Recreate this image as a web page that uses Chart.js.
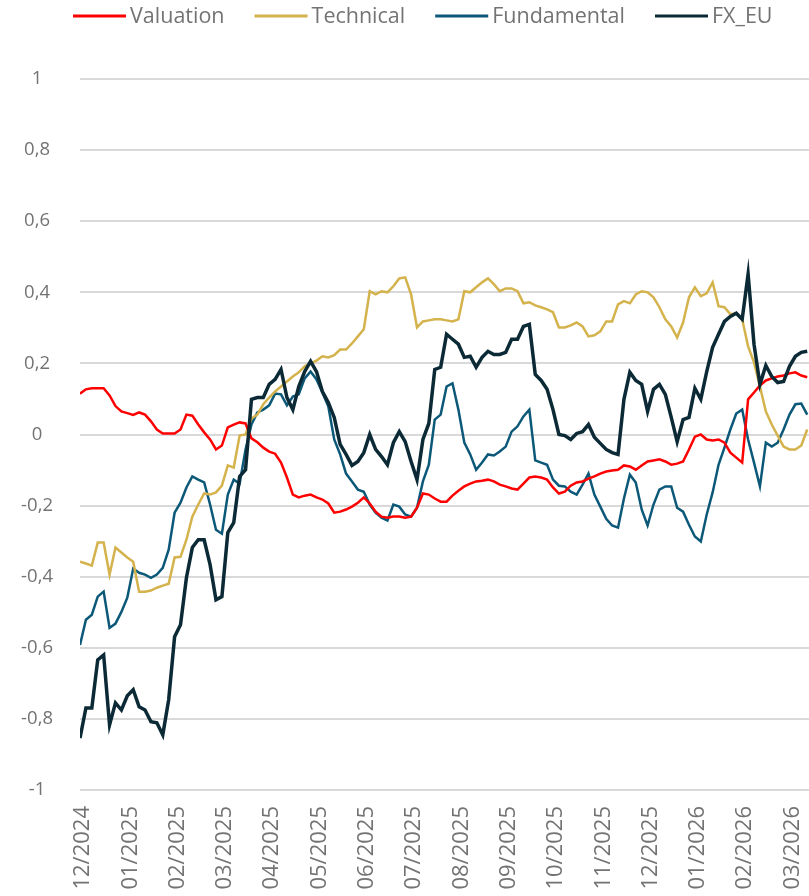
<!DOCTYPE html>
<html>
<head>
<meta charset="utf-8">
<script src="https://cdn.jsdelivr.net/npm/chart.js@4.4.1/dist/chart.umd.min.js"></script>
<style>
  html, body { margin: 0; padding: 0; background: #ffffff; }
  #wrap { width: 809px; height: 896px; position: relative; }
</style>
</head>
<body>
<div id="wrap"><canvas id="signalChart" width="809" height="896"></canvas></div>
<script>
// month labels shown on the x axis (one every 8 samples)
const monthLabels = ['12/2024', '01/2025', '02/2025', '03/2025', '04/2025', '05/2025', '06/2025', '07/2025',
    '08/2025', '09/2025', '10/2025', '11/2025', '12/2025', '01/2026', '02/2026', '03/2026'];
const samplesPerMonth = 8;

const seriesNames = ['Valuation', 'Technical', 'Fundamental', 'FX_EU'];
const seriesColors = ['#ff0000', '#d4b24c', '#0c5878', '#0b2a36'];

// values, one sample every ~4 days
const valuation = [
    0.115, 0.127, 0.13, 0.13, 0.13, 0.11, 0.08, 0.065, 0.06, 0.055,
    0.062, 0.056, 0.037, 0.014, 0.003, 0.003, 0.003, 0.014, 0.056, 0.053,
    0.028, 0.006, -0.014, -0.042, -0.031, 0.02, 0.028, 0.034, 0.031, -0.011,
    -0.022, -0.037, -0.048, -0.054, -0.079, -0.121, -0.169, -0.177, -0.172, -0.169,
    -0.177, -0.183, -0.194, -0.22, -0.217, -0.211, -0.203, -0.192, -0.177, -0.194,
    -0.217, -0.231, -0.234, -0.231, -0.231, -0.234, -0.231, -0.206, -0.166, -0.169,
    -0.18, -0.189, -0.189, -0.172, -0.158, -0.146, -0.138, -0.132, -0.13, -0.127,
    -0.132, -0.141, -0.146, -0.152, -0.155, -0.138, -0.121, -0.118, -0.121, -0.127,
    -0.149, -0.166, -0.161, -0.144, -0.135, -0.132, -0.124, -0.118, -0.11, -0.104,
    -0.101, -0.099, -0.087, -0.09, -0.099, -0.087, -0.076, -0.073, -0.07, -0.076,
    -0.085, -0.082, -0.076, -0.042, -0.006, 0, -0.014, -0.017, -0.014, -0.023,
    -0.051, -0.065, -0.079, 0.099, 0.118, 0.138, 0.152, 0.158, 0.163, 0.166,
    0.172, 0.175, 0.166, 0.161
];
const technical = [
    -0.358, -0.363, -0.369, -0.304, -0.304, -0.394, -0.318, -0.332, -0.346, -0.358,
    -0.442, -0.442, -0.439, -0.431, -0.425, -0.42, -0.346, -0.344, -0.296, -0.231,
    -0.197, -0.166, -0.169, -0.163, -0.144, -0.087, -0.093, -0.003, 0, 0.045,
    0.056, 0.085, 0.104, 0.121, 0.135, 0.149, 0.163, 0.175, 0.192, 0.2,
    0.208, 0.22, 0.217, 0.223, 0.239, 0.239, 0.256, 0.276, 0.296, 0.403,
    0.394, 0.403, 0.4, 0.417, 0.439, 0.442, 0.394, 0.301, 0.318, 0.321,
    0.324, 0.324, 0.321, 0.318, 0.324, 0.403, 0.4, 0.414, 0.428, 0.439,
    0.423, 0.403, 0.411, 0.411, 0.403, 0.369, 0.372, 0.363, 0.358, 0.352,
    0.344, 0.301, 0.301, 0.307, 0.315, 0.304, 0.276, 0.279, 0.29, 0.318,
    0.318, 0.366, 0.375, 0.369, 0.394, 0.403, 0.4, 0.386, 0.358, 0.324,
    0.304, 0.273, 0.315, 0.386, 0.414, 0.389, 0.397, 0.428, 0.361, 0.358,
    0.338, 0.341, 0.324, 0.248, 0.203, 0.135, 0.065, 0.028, -0.003, -0.034,
    -0.042, -0.042, -0.031, 0.014
];
const fundamental = [
    -0.592, -0.521, -0.507, -0.456, -0.442, -0.544, -0.532, -0.499, -0.459, -0.377,
    -0.389, -0.394, -0.403, -0.394, -0.375, -0.324, -0.22, -0.192, -0.149, -0.118,
    -0.127, -0.135, -0.197, -0.268, -0.279, -0.169, -0.127, -0.138, -0.042, 0.028,
    0.062, 0.07, 0.082, 0.115, 0.113, 0.082, 0.107, 0.113, 0.158, 0.177,
    0.155, 0.118, 0.079, -0.014, -0.056, -0.11, -0.132, -0.155, -0.161, -0.197,
    -0.22, -0.234, -0.242, -0.197, -0.203, -0.225, -0.231, -0.206, -0.132, -0.085,
    0.042, 0.056, 0.135, 0.144, 0.07, -0.023, -0.056, -0.099, -0.079, -0.056,
    -0.059, -0.048, -0.034, 0.008, 0.023, 0.051, 0.07, -0.073, -0.079, -0.085,
    -0.127, -0.144, -0.146, -0.161, -0.169, -0.141, -0.11, -0.169, -0.203, -0.237,
    -0.256, -0.262, -0.18, -0.113, -0.135, -0.211, -0.256, -0.197, -0.155, -0.146,
    -0.146, -0.206, -0.217, -0.254, -0.287, -0.301, -0.225, -0.163, -0.085, -0.037,
    0.014, 0.059, 0.07, -0.014, -0.079, -0.146, -0.023, -0.034, -0.023, 0.014,
    0.056, 0.085, 0.087, 0.056
];
const fxEu = [
    -0.854, -0.769, -0.769, -0.634, -0.62, -0.817, -0.755, -0.775, -0.735, -0.718,
    -0.766, -0.775, -0.808, -0.811, -0.845, -0.746, -0.569, -0.535, -0.403, -0.318,
    -0.296, -0.296, -0.366, -0.465, -0.456, -0.276, -0.248, -0.118, -0.099, 0.099,
    0.104, 0.104, 0.141, 0.155, 0.183, 0.104, 0.07, 0.135, 0.177, 0.206,
    0.177, 0.121, 0.09, 0.048, -0.028, -0.056, -0.087, -0.076, -0.051, 0,
    -0.042, -0.062, -0.085, -0.023, 0.008, -0.02, -0.076, -0.127, -0.014, 0.031,
    0.183, 0.189, 0.282, 0.268, 0.254, 0.217, 0.22, 0.189, 0.217, 0.234,
    0.225, 0.225, 0.231, 0.268, 0.268, 0.304, 0.31, 0.169, 0.152, 0.127,
    0.07, 0, -0.003, -0.014, 0.003, 0.008, 0.028, -0.008, -0.025, -0.042,
    -0.051, -0.056, 0.099, 0.175, 0.152, 0.141, 0.065, 0.127, 0.141, 0.113,
    0.048, -0.02, 0.042, 0.048, 0.13, 0.099, 0.177, 0.245, 0.282, 0.318,
    0.332, 0.341, 0.324, 0.451, 0.254, 0.141, 0.194, 0.163, 0.146, 0.149,
    0.192, 0.22, 0.231, 0.234
];

const yTicks = [-1, -0.8, -0.6, -0.4, -0.2, 0, 0.2, 0.4, 0.6, 0.8, 1];

const allSeries = [valuation, technical, fundamental, fxEu];
const lineWidths = [2.5, 2.5, 2.5, 3.5];
const drawOrder = [1, 2, 3, 0]; // FX_EU on top

const toPoints = (arr) => arr.map((v, i) => ({ x: i, y: v }));

const datasets = allSeries.map((arr, i) => ({
    label: seriesNames[i],
    data: toPoints(arr),
    borderColor: seriesColors[i],
    backgroundColor: seriesColors[i],
    borderWidth: lineWidths[i],
    pointRadius: 0,
    tension: 0,
    order: drawOrder[i]
}));

const fontFamily = '"Open Sans", "DejaVu Sans", sans-serif';
const textColor = '#737373';

// legend drawn by hand: short line, small gap, label, wider gap
const lineLegend = {
    id: 'lineLegend',
    afterDraw(chart) {
        const c = chart.ctx;
        c.save();
        c.font = '21.5px ' + fontFamily;
        c.textBaseline = 'middle';
        c.textAlign = 'left';
        let x = 73;
        const y = 16;
        chart.data.datasets.forEach(ds => {
            c.fillStyle = ds.borderColor;
            c.fillRect(x, y - 1.5, 53, 3);
            x += 57;
            c.fillStyle = textColor;
            c.fillText(ds.label, x, y + 1);
            x += c.measureText(ds.label).width + 30;
        });
        c.restore();
    }
};

let ctx = document.getElementById('signalChart').getContext('2d');
const myChart = new Chart(ctx, {
    type: 'line',
    data: { datasets: datasets },
    plugins: [lineLegend],
    options: {
        responsive: false,
        animation: false,
        layout: { padding: { left: 0, right: 0, top: 79, bottom: 0 } },
        scales: {
            x: {
                type: 'linear',
                min: 0,
                max: 123.3,
                grid: { display: false },
                border: { display: false },
                afterFit(axis) {
                    axis.height = 106;
                    axis.paddingLeft = 0;
                    axis.paddingRight = 0;
                },
                afterBuildTicks(axis) {
                    axis.ticks = monthLabels.map((l, i) => ({ value: 0.5 + i * samplesPerMonth }));
                },
                ticks: {
                    autoSkip: false,
                    minRotation: 90,
                    maxRotation: 90,
                    padding: 8,
                    color: textColor,
                    font: { family: fontFamily, size: 22 },
                    callback: function (value, index) { return monthLabels[index]; }
                }
            },
            y: {
                min: -1,
                max: 1,
                afterFit(axis) {
                    axis.width = 80;
                    axis.paddingTop = 0;
                    axis.paddingBottom = 0;
                },
                afterBuildTicks(axis) {
                    axis.ticks = yTicks.map(v => ({ value: v }));
                },
                grid: { color: '#d9d9d9', lineWidth: 2, drawTicks: false },
                border: { display: false },
                ticks: {
                    crossAlign: 'center',
                    padding: 27,
                    color: textColor,
                    font: { family: fontFamily, size: 18.5 },
                    callback: function (value) {
                        return String(Math.round(value * 10) / 10).replace('.', ',');
                    }
                }
            }
        },
        plugins: {
            legend: { display: false },
            tooltip: { enabled: false }
        }
    }
});
</script>
</body>
</html>
